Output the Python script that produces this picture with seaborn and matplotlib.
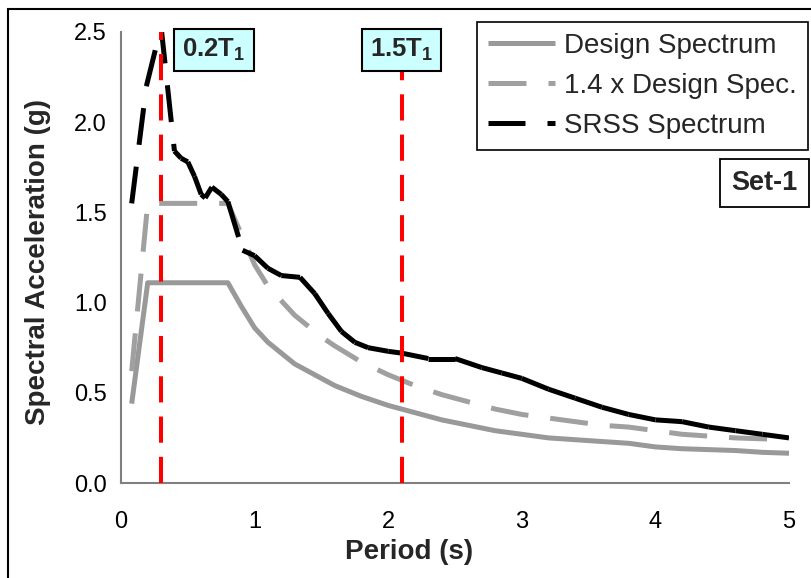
import numpy as np
import pandas as pd
import matplotlib
matplotlib.use("Agg")
import matplotlib.pyplot as plt
import seaborn as sns
from matplotlib.lines import Line2D
from matplotlib.patches import Rectangle

# ---------------- data ----------------
period_design = [0.08, 0.20, 0.80, 0.90, 1.00, 1.10, 1.20, 1.30, 1.40, 1.50, 1.60, 1.80,
                 2.00, 2.20, 2.40, 2.60, 2.80, 3.00, 3.20, 3.40, 3.60, 3.80, 4.00, 4.20,
                 4.40, 4.60, 4.80, 5.00]
design_spectrum = [0.44, 1.11, 1.11, 0.98, 0.86, 0.78, 0.72, 0.66, 0.62, 0.58, 0.54, 0.48,
                   0.43, 0.39, 0.35, 0.32, 0.29, 0.27, 0.25, 0.24, 0.23, 0.22, 0.20, 0.19,
                   0.185, 0.18, 0.17, 0.165]
design_spec_14 = [0.62, 1.55, 1.55, 1.38, 1.21, 1.09, 1.01, 0.93, 0.87, 0.81, 0.76, 0.67,
                  0.60, 0.54, 0.49, 0.45, 0.41, 0.38, 0.36, 0.34, 0.32, 0.31, 0.29, 0.27,
                  0.26, 0.25, 0.245, 0.24]

period_srss = [0.08, 0.19, 0.30, 0.40, 0.45, 0.50, 0.55, 0.60, 0.63, 0.68, 0.75, 0.80,
               0.91, 1.00, 1.10, 1.20, 1.34, 1.45, 1.55, 1.65, 1.75, 1.85, 2.00, 2.10,
               2.30, 2.50, 2.70, 2.85, 3.00, 3.20, 3.40, 3.60, 3.80, 4.00, 4.20, 4.40,
               4.60, 4.80, 5.00]
srss_spectrum = [1.55, 2.20, 2.53, 1.84, 1.80, 1.78, 1.70, 1.60, 1.58, 1.64, 1.60, 1.56,
                 1.29, 1.26, 1.19, 1.15, 1.14, 1.05, 0.94, 0.84, 0.78, 0.75, 0.73, 0.72,
                 0.69, 0.69, 0.64, 0.61, 0.58, 0.52, 0.47, 0.42, 0.38, 0.35, 0.34, 0.31,
                 0.29, 0.27, 0.25]

marker_periods = [0.3, 2.1]
marker_labels = [r"$\mathbf{0.2T_1}$", r"$\mathbf{1.5T_1}$"]
legend_labels = ["Design Spectrum", "1.4 x Design Spec.", "SRSS Spectrum"]
x_ticks = [0, 1, 2, 3, 4, 5]
y_ticks = [0.0, 0.5, 1.0, 1.5, 2.0, 2.5]
set_label = "Set-1"

# ---------------- styling ----------------
sns.set_theme(style="white")
plt.rcParams["font.family"] = ["Liberation Sans", "DejaVu Sans"]
plt.rcParams["mathtext.fontset"] = "custom"
plt.rcParams["mathtext.rm"] = "Liberation Sans"
plt.rcParams["mathtext.bf"] = "Liberation Sans:bold"

W, H = 811, 578
fig = plt.figure(figsize=(W / 100, H / 100), dpi=100)
fig.patch.set_facecolor("white")
ax = fig.add_axes([121 / W, 1 - 483 / H, 668 / W, 451 / H])
ax.set_facecolor("white")

LW = 3.6
gray1 = "#999999"
gray2 = "#A0A0A0"

df_design = pd.DataFrame({"T": period_design, "Sa": design_spectrum})
df_14 = pd.DataFrame({"T": period_design, "Sa": design_spec_14})

sns.lineplot(data=df_design, x="T", y="Sa", ax=ax, color=gray1, lw=LW,
             solid_capstyle="butt", zorder=2)
sns.lineplot(data=df_14, x="T", y="Sa", ax=ax, color=gray2, lw=LW,
             linestyle=(0, (7.6, 4.4)), dash_capstyle="butt", zorder=3)

# SRSS: dash pattern restarts at each data point (as in the source chart)
rows = []
for i in range(len(period_srss) - 1):
    rows.append((period_srss[i], srss_spectrum[i], i))
    rows.append((period_srss[i + 1], srss_spectrum[i + 1], i))
df_srss = pd.DataFrame(rows, columns=["T", "Sa", "seg"])
sns.lineplot(data=df_srss, x="T", y="Sa", units="seg", estimator=None, ax=ax,
             color="black", lw=LW, linestyle=(0, (7.4, 4.4)), dash_capstyle="butt",
             solid_joinstyle="round", zorder=4)

# red marker lines
ax.vlines(marker_periods, 0, 2.5, colors="#FF0000", lw=2.9,
          linestyles=[(0, (6.5, 3.5))], zorder=6)

ax.set_xlim(0, 5)
ax.set_ylim(0, 2.5)
ax.set_xticks(x_ticks)
ax.set_xticklabels([str(t) for t in x_ticks])
ax.set_yticks(y_ticks)
ax.set_yticklabels([f"{v:.1f}" for v in y_ticks])
ax.tick_params(axis="both", direction="out", length=7, width=1.3, color="#808080",
               labelsize=17, labelcolor="black")
ax.tick_params(axis="x", pad=13)
ax.tick_params(axis="y", pad=3)
for s in ["top", "right"]:
    ax.spines[s].set_visible(False)
for s in ["left", "bottom"]:
    ax.spines[s].set_color("#808080")
    ax.spines[s].set_linewidth(1.5)

ax.set_xlabel("Period (s)", fontsize=20, fontweight="bold")
ax.xaxis.set_label_coords((409 - 121) / 668, -0.125)
ax.set_ylabel("Spectral Acceleration (g)", fontsize=20, fontweight="bold")
ax.yaxis.set_label_coords(-0.105, 0.49)
ax.grid(False)

# legend
handles = [
    Line2D([], [], color=gray1, lw=LW, solid_capstyle="butt"),
    Line2D([], [], color=gray2, lw=LW, linestyle=(0, (7.6, 4.4)), dash_capstyle="butt"),
    Line2D([], [], color="black", lw=LW, linestyle=(0, (7.4, 4.4)), dash_capstyle="butt"),
]
leg = fig.legend(handles, legend_labels, loc="upper right",
                 bbox_to_anchor=(808 / W, 1 - 22 / H), bbox_transform=fig.transFigure,
                 borderaxespad=0, fontsize=20, handlelength=2.41, handletextpad=0.32,
                 labelspacing=0.5, borderpad=0.4, frameon=True, fancybox=False,
                 edgecolor="black", framealpha=1)
leg.get_frame().set_linewidth(1.2)

# annotation boxes
box_centers = [(214, 50), (401.5, 50)]
for (cx, cy), lab in zip(box_centers, marker_labels):
    fig.text(cx / W, 1 - cy / H, lab, ha="center", va="center", fontsize=18.5,
             bbox=dict(boxstyle="square,pad=0.32", fc="#CCFFFF", ec="black", lw=1.5),
             zorder=10)

fig.text(764 / W, 1 - 183 / H, set_label, ha="center", va="center", fontsize=19.5,
         fontweight="bold",
         bbox=dict(boxstyle="square,pad=0.42", fc="white", ec="black", lw=1.3))

# outer chart border (top/left visible, rest outside image)
fig.add_artist(Rectangle((8 / W, -0.2), 1.5, 1.2 - 9 / H, fill=False,
                         ec="black", lw=1.5, transform=fig.transFigure))

fig.savefig("out.png", dpi=100)
